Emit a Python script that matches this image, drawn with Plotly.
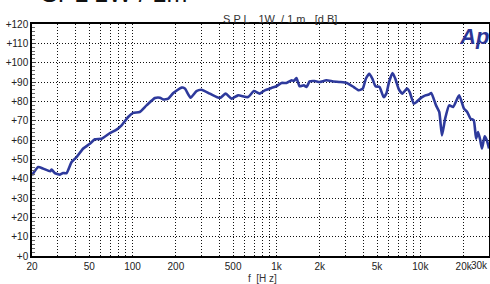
import plotly.graph_objects as go

freq_hz = [20, 22.1, 23.9, 26.7, 27.4, 28.8, 31.3, 32.9, 34.8, 37.7, 40.9, 45.4, 50.5, 54.7,
           60.9, 69.6, 77.4, 83.9, 93.2, 101, 112, 125, 143, 155, 163, 177, 192, 219, 231,
           253, 278, 301, 344, 404, 444, 487, 541, 635, 697, 765, 830, 922, 1000, 1083,
           1174, 1274, 1320, 1377, 1449, 1549, 1618, 1701, 1842, 1994, 2221, 2479, 2765,
           3085, 3441, 3737, 3980, 4180, 4420, 4640, 4880, 5200, 5560, 5800, 6060, 6400,
           6700, 7050, 7500, 8070, 8430, 8990, 9380, 10150, 10850, 11440, 11900, 12850,
           13530, 14130, 14880, 15860, 16900, 18600, 20100, 21150, 22300, 23500, 24400,
           25200, 26100, 26800, 28000, 29000, 30000]
spl_db = [41.8, 46.0, 45.2, 43.8, 44.7, 42.9, 42.1, 42.9, 42.9, 48.6, 51.2, 55.6, 58.1, 60.4,
          60.7, 63.6, 65.4, 67.6, 71.9, 74.0, 74.5, 77.9, 81.7, 81.9, 81.0, 81.4, 84.3, 87.1,
          86.6, 81.9, 85.3, 86.0, 84.0, 81.7, 84.0, 81.4, 83.1, 82.2, 85.3, 84.0, 85.7, 86.9,
          87.8, 89.5, 89.5, 90.9, 90.5, 92.0, 87.8, 88.3, 87.4, 90.3, 90.5, 90.0, 90.9, 90.3,
          90.0, 89.5, 87.4, 85.7, 86.6, 91.7, 94.3, 91.7, 87.8, 87.4, 82.2, 84.0, 90.0, 94.6,
          91.7, 86.6, 84.0, 86.6, 84.8, 78.8, 79.6, 81.9, 83.1, 83.5, 84.3, 77.9, 74.5, 62.4,
          71.1, 77.9, 77.1, 83.1, 76.2, 74.5, 71.1, 70.2, 60.7, 64.1, 59.8, 55.6, 61.9, 59.8,
          55.6]

x_grid = [20, 30, 40, 50, 60, 70, 80, 90, 100, 200, 300, 400, 500, 600, 700, 800, 900,
          1000, 2000, 3000, 4000, 5000, 6000, 7000, 8000, 9000, 10000, 20000, 30000]
x_labels = {20: "20", 50: "50", 100: "100", 200: "200", 500: "500", 1000: "1k",
            2000: "2k", 5000: "5k", 10000: "10k", 20000: "20k"}
last_label = "30k"
y_ticks = list(range(0, 121, 10))
y_labels = ["+" + str(v) for v in y_ticks]

FAM = "Liberation Sans, Arial, sans-serif"
font = dict(family=FAM, size=10, color="#222")

fig = go.Figure()
fig.add_trace(go.Scatter(x=freq_hz, y=spl_db, mode="lines",
                         line=dict(color="#2e3a9c", width=2.6, shape="spline", smoothing=0.5),
                         hoverinfo="skip"))

fig.update_layout(
    width=490, height=284,
    margin=dict(l=32, r=1, t=24, b=28),
    paper_bgcolor="white", plot_bgcolor="white",
    showlegend=False,
    font=font,
    xaxis=dict(type="log", range=[1.30103, 4.4771], tickvals=x_grid,
               ticktext=[x_labels.get(v, "") for v in x_grid],
               showgrid=True, gridcolor="#111", griddash="1px,2px", gridwidth=1,
               showline=True, linecolor="black", linewidth=1.5, mirror=True,
               ticks="", zeroline=False, tickfont=font, automargin=False),
    yaxis=dict(range=[0, 120], tickvals=y_ticks, ticktext=y_labels,
               showgrid=True, gridcolor="#111", griddash="1px,2px", gridwidth=1,
               showline=True, linecolor="black", linewidth=1.5, mirror=True,
               ticks="inside", ticklen=4, tickcolor="#444",
               minor=dict(dtick=2, ticks="inside", ticklen=3, tickcolor="#666", showgrid=False),
               zeroline=False, tickfont=font, ticklabelstandoff=0, automargin=False),
)

fig.add_annotation(x=1.0, y=0, xref="paper", yref="paper", xanchor="right", yanchor="top",
                   text=last_label, showarrow=False, yshift=-2, xshift=1,
                   font=font)
fig.add_annotation(x=0.543, y=1.0, xref="paper", yref="paper", xanchor="center", yanchor="bottom",
                   text="S P L   1W  / 1 m   [d B]", showarrow=False,
                   font=dict(family=FAM, size=11, color="#333"), yshift=-3)
fig.add_annotation(x=0.505, y=0, xref="paper", yref="paper", xanchor="center", yanchor="top",
                   text="f  [H z]", showarrow=False, yshift=-15,
                   font=dict(family=FAM, size=10, color="#333"))
fig.add_annotation(x=1.0, y=0.944, xref="paper", yref="paper", xanchor="right", yanchor="middle",
                   text="<b><i>Ap</i></b>", showarrow=False, xshift=2,
                   font=dict(family=FAM, size=22, color="#2b3596"))
fig.add_annotation(x=0.015, y=1.0, xref="paper", yref="paper", xanchor="left", yanchor="bottom",
                   text="SPL 1W / 1m", showarrow=False, yshift=15,
                   font=dict(family=FAM, size=25, color="#111"))

fig.write_html("out.html", config={"displayModeBar": False},
               post_script="document.body.style.margin='0';")
